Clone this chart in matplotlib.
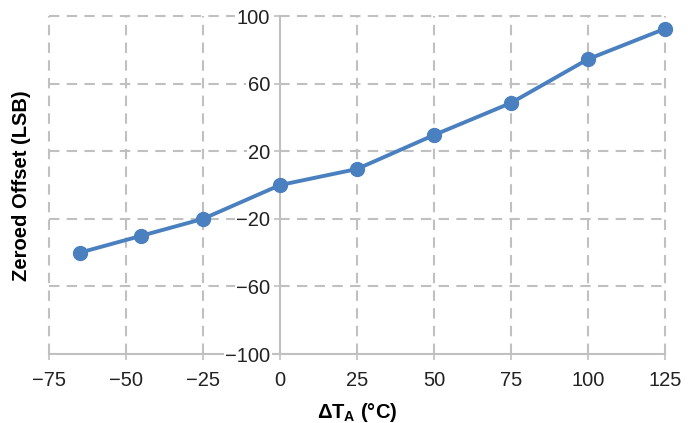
import matplotlib
matplotlib.use("Agg")
from matplotlib import pyplot as plt

plt.rcParams['font.family'] = ['Liberation Sans', 'DejaVu Sans']
plt.rcParams['mathtext.fontset'] = 'custom'
plt.rcParams['mathtext.rm'] = 'Liberation Sans'
plt.rcParams['mathtext.bf'] = 'Liberation Sans:bold'

# data
temp = [-65, -45, -25, 0, 25, 50, 75, 100, 125]
offset = [-40, -30, -20, 0, 9.5, 29.6, 48.6, 74.5, 92.5]

x_ticks = [-75, -50, -25, 0, 25, 50, 75, 100, 125]
y_ticks = [-100, -60, -20, 20, 60, 100]

blue = "#4a80c0"
gray = "#c0c0c0"

fig = plt.figure(figsize=(7, 4.23), dpi=100)
ax = fig.add_axes([0.07, 0.163, 0.88, 0.799])

ax.set_xlim(-75, 125)
ax.set_ylim(-100, 100)

# dashed grid
for xv in x_ticks:
    if xv != 0:
        ax.axvline(xv, color=gray, lw=1.5, dashes=(5, 3.5), zorder=1, clip_on=False)
for yv in y_ticks:
    if yv != -100:
        ax.axhline(yv, color=gray, lw=1.5, dashes=(5, 3.5), zorder=1, clip_on=False)

ax.plot(temp, offset, color=blue, lw=2.8, marker="o", markersize=10, zorder=3, clip_on=False)

# spines: y axis through zero, x axis at the bottom
ax.spines['left'].set_position(('data', 0))
ax.spines['left'].set_color(gray)
ax.spines['left'].set_linewidth(1.5)
ax.spines['bottom'].set_color(gray)
ax.spines['bottom'].set_linewidth(1.5)
ax.spines['top'].set_visible(False)
ax.spines['right'].set_visible(False)

ax.set_xticks(x_ticks)
ax.set_yticks(y_ticks)
ax.tick_params(axis='both', colors=gray, labelcolor="#222222", labelsize=14.5, length=4, width=1.2)
ax.tick_params(axis='x', pad=8)
ax.tick_params(axis='y', pad=3)
for lab in ax.get_yticklabels():
    lab.set_bbox(dict(facecolor="white", edgecolor="none", pad=1))
ax.yaxis.set_zorder(4)

ax.set_xlabel(r"ΔT$_\mathbf{A}$ (°C)", fontsize=14.5, fontweight="bold", labelpad=8)
fig.text(0.031, 0.562, "Zeroed Offset (LSB)", rotation=90, fontsize=14.5, fontweight="bold",
         ha="center", va="center")

fig.savefig("out.png", dpi=100)
